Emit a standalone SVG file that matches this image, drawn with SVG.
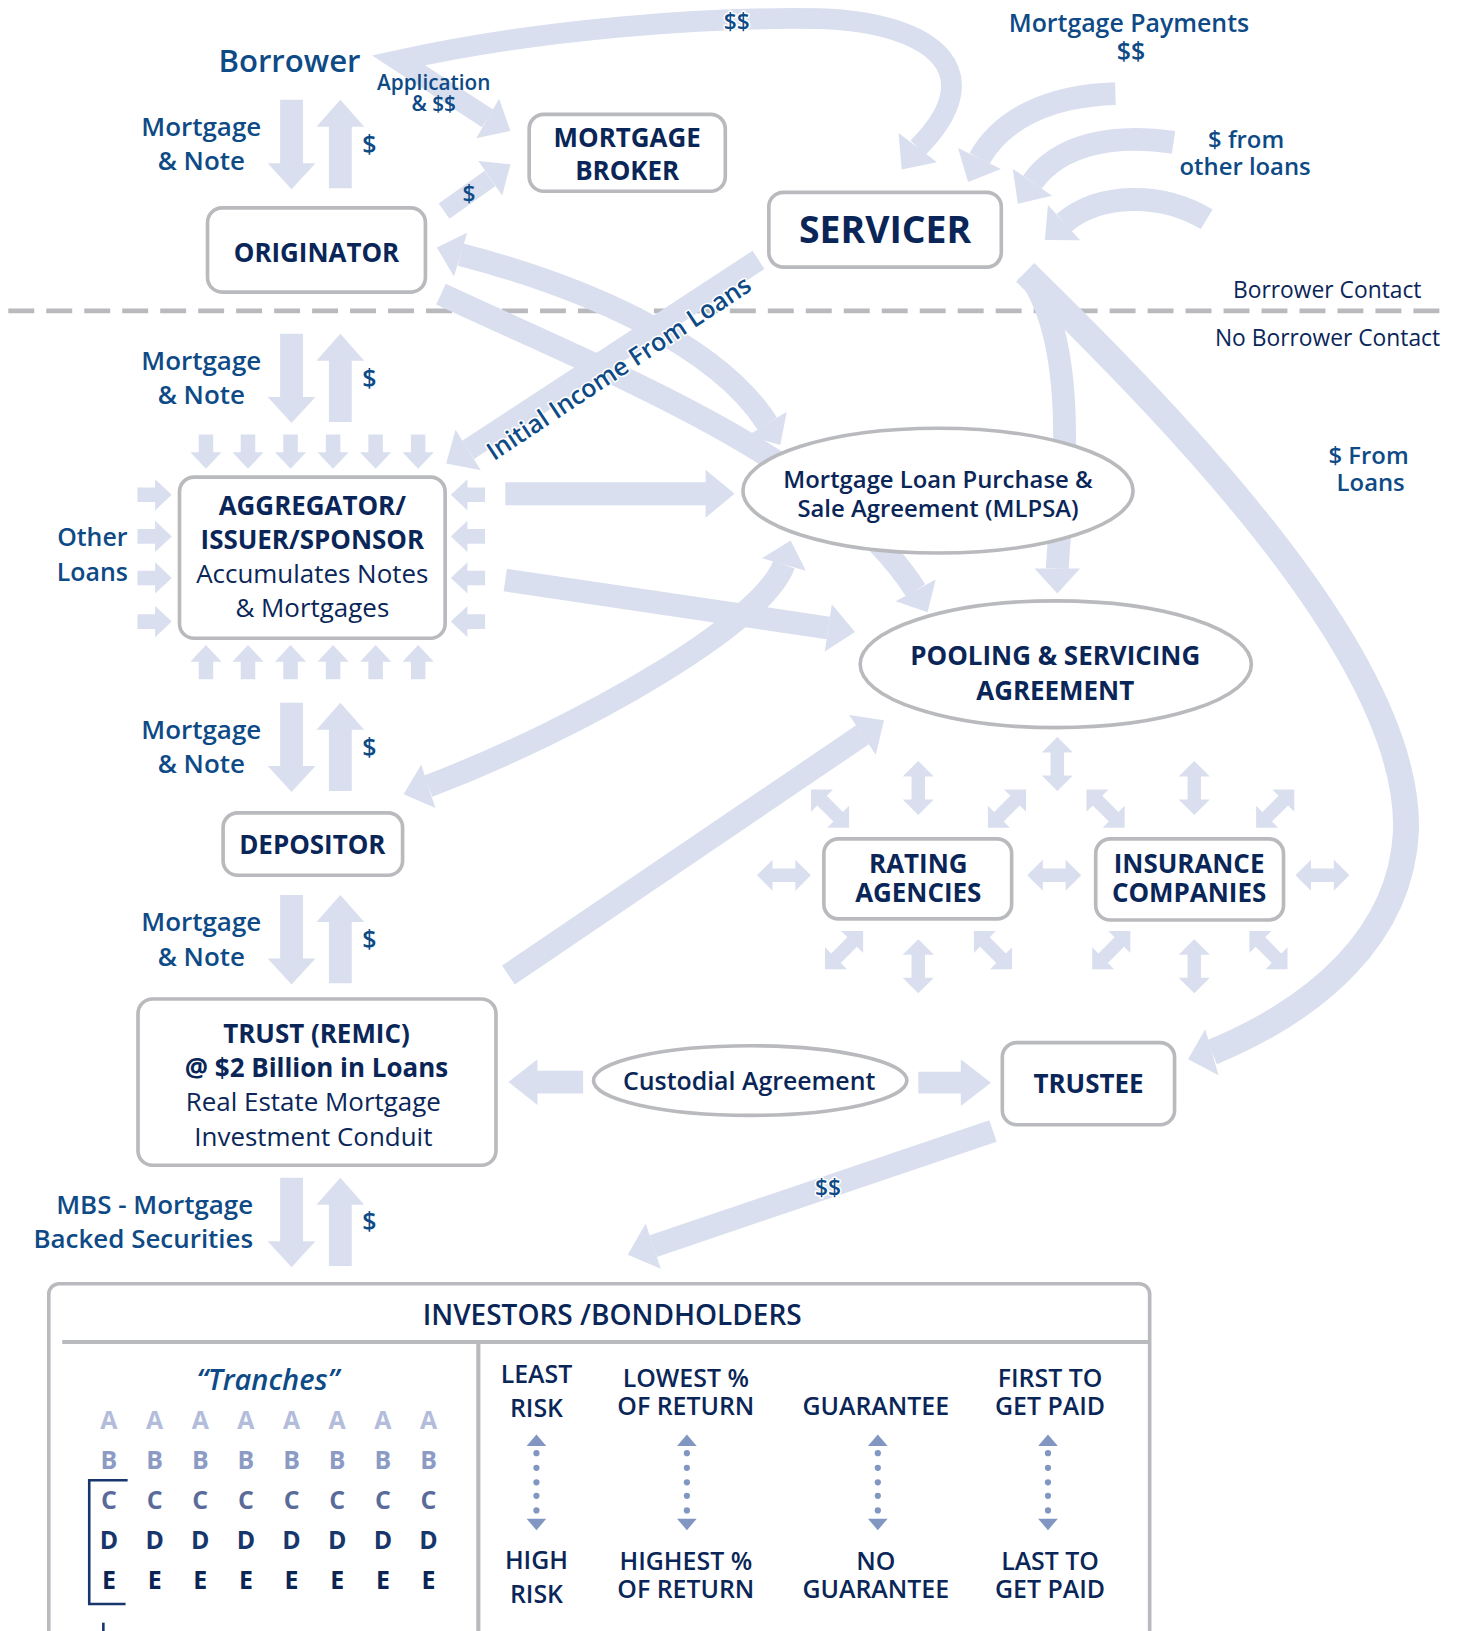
<svg xmlns="http://www.w3.org/2000/svg" width="1463" height="1631" viewBox="0 0 1463 1631">
<defs>
<style>
.band{fill:none;stroke:#d9dfee;stroke-linecap:butt;stroke-linejoin:miter;stroke-miterlimit:6}
.ah{fill:#d9dfee}
.box{fill:#fff;stroke:#b9babd;stroke-width:3.5}
.t{font-family:"Open Sans","Noto Sans",sans-serif;text-anchor:middle}
.lb{fill:#0d4a86;font-weight:600}
.nb{fill:#0a2658;font-weight:700}
.nr{fill:#0a2658;font-weight:400}
.nm{fill:#0a2658;font-weight:600}
.halo{paint-order:stroke;stroke:#fff;stroke-width:3;stroke-linejoin:round}
.dot{fill:#8197c1}
</style>
<g id="pair" fill="#d9dfee">
<polygon points="270,0 292,0 292,61 304,61 281,86 258,61 270,61"/>
<polygon points="328,0 351,26 339,26 339,85 317,85 317,26 305,26"/>
</g>
<polygon id="sa" fill="#d9dfee" points="-7,-16.5 7,-16.5 7,0.5 15,0.5 0,16.5 -15,0.5 -7,0.5"/>
<polygon id="da" fill="#d9dfee" points="0,-26 15,-11 6.5,-11 6.5,11 15,11 0,26 -15,11 -6.5,11 -6.5,-11 -15,-11"/>
<g id="dv" class="dot">
<polygon points="0,0 9.5,11 -9.5,11"/>
<circle cx="0" cy="18" r="3"/><circle cx="0" cy="32" r="3"/><circle cx="0" cy="46" r="3"/><circle cx="0" cy="59" r="3"/><circle cx="0" cy="73" r="3"/>
<polygon points="-9.5,81 9.5,81 0,92"/>
</g>
</defs>
<rect width="1463" height="1631" fill="#fff"/>
<g transform="scale(1.0376 1.0395)">
<line x1="8" y1="299" x2="1397" y2="299" stroke="#b9babd" stroke-width="4.5" stroke-dasharray="25 11.6"/>
<g id="connectors">
<path class="band" stroke-width="20" d="M 470,114 L 384,58 C 520,28 680,16 790,18 C 905,22 955,72 884.6,142.2"/>
<polygon class="ah" points="481,95 492,126 459,133"/>
<polygon class="ah" points="866,128 869,163 903,156"/>
<path class="band" stroke-width="18" d="M 428,203 L 472.3,171.7"/>
<polygon class="ah" points="461,155 492,158 484,188"/>
<path class="band" stroke-width="22" d="M 1075,90 C 1010,92 965,115 944,152.5"/>
<polygon class="ah" points="923.3,142.4 933,175 964.7,162.6"/>
<path class="band" stroke-width="22" d="M 1131,137 C 1070,128 1020,140 995,175.3"/>
<polygon class="ah" points="976,162.4 981,196 1014,188.2"/>
<path class="band" stroke-width="22" d="M 1163,211 C 1120,185 1060,185 1025.5,214.2"/>
<polygon class="ah" points="1010,197.2 1007,231 1041,231.2"/>
<path class="band" stroke-width="21" d="M 731,250 L 451.2,432.8"/>
<polygon class="ah" points="439,413.3 430,446 463.4,452.3"/>
<path class="band" stroke-width="22" d="M 443.9,245 C 560,275 690,330 739.5,407.5"/>
<polygon class="ah" points="450.3,224 421,238 437.5,266"/>
<polygon class="ah" points="720.7,419 752,428 758.3,396"/>
<path class="band" stroke-width="22" d="M 425,283 C 590,360 800,440 882.5,567.9"/>
<polygon class="ah" points="863.2,578.4 894,589 901.8,557.4"/>
<path class="band" stroke-width="22" d="M 990,262 C 1012,292 1026,340 1026,420 C 1026,480 1020,520 1019,547"/>
<polygon class="ah" points="997,547 1019,571 1041,547"/>
<path class="band" stroke-width="25" d="M 988,262 C 1150,420 1360,640 1355,800 C 1350,900 1270,970 1168,1012.3"/>
<polygon class="ah" points="1161.6,990.2 1145,1019 1174.4,1034.3"/>
<polygon class="ah" points="487,464 680,464 680,452 708,475 680,498 680,486 487,486"/>
<path class="band" stroke-width="22" d="M 487,558 L 798.3,604.1"/>
<polygon class="ah" points="801.7,581.4 824,608 794.9,626.8"/>
<path class="band" stroke-width="22" d="M 412.8,756.3 C 560,700 735,600 755.5,543.1"/>
<polygon class="ah" points="406,735.4 389,764 419.6,777.2"/>
<polygon class="ah" points="734.3,537.1 762,520 776.7,549.1"/>
<path class="band" stroke-width="22" d="M 490,938 L 831.25,706.9"/>
<polygon class="ah" points="818.4,687.8 852,693 844,726"/>
<polygon class="ah" points="562,1030 518,1030 518,1019 490,1041 518,1063 518,1052 562,1052"/>
<polygon class="ah" points="885,1031 926,1031 926,1019 955,1041.5 926,1064 926,1052 885,1052"/>
<path class="band" stroke-width="22" d="M 957,1088 L 629.6,1198.7"/>
<polygon class="ah" points="622.3,1176.9 605,1207 636.9,1220.5"/>
<use href="#pair" y="96"/>
<use href="#pair" y="321"/>
<use href="#pair" y="676"/>
<use href="#pair" y="861"/>
<use href="#pair" y="1133"/>
<use href="#sa" transform="translate(198.5,434.5)"/>
<use href="#sa" transform="translate(239,434.5)"/>
<use href="#sa" transform="translate(280,434.5)"/>
<use href="#sa" transform="translate(321,434.5)"/>
<use href="#sa" transform="translate(362,434.5)"/>
<use href="#sa" transform="translate(403,434.5)"/>
<use href="#sa" transform="translate(198.5,637) rotate(180)"/>
<use href="#sa" transform="translate(239,637) rotate(180)"/>
<use href="#sa" transform="translate(280,637) rotate(180)"/>
<use href="#sa" transform="translate(321,637) rotate(180)"/>
<use href="#sa" transform="translate(362,637) rotate(180)"/>
<use href="#sa" transform="translate(403,637) rotate(180)"/>
<use href="#sa" transform="translate(149,476) rotate(-90)"/>
<use href="#sa" transform="translate(149,516) rotate(-90)"/>
<use href="#sa" transform="translate(149,556) rotate(-90)"/>
<use href="#sa" transform="translate(149,598) rotate(-90)"/>
<use href="#sa" transform="translate(451,476) rotate(90)"/>
<use href="#sa" transform="translate(451,516) rotate(90)"/>
<use href="#sa" transform="translate(451,556) rotate(90)"/>
<use href="#sa" transform="translate(451,598) rotate(90)"/>
<use href="#da" transform="translate(1019,735)"/>
<use href="#da" transform="translate(885,758)"/>
<use href="#da" transform="translate(800,778) rotate(-45)"/>
<use href="#da" transform="translate(970.5,778) rotate(45)"/>
<use href="#da" transform="translate(813.5,914) rotate(45)"/>
<use href="#da" transform="translate(885,929.5)"/>
<use href="#da" transform="translate(957,914) rotate(-45)"/>
<use href="#da" transform="translate(755.5,842) rotate(90)"/>
<use href="#da" transform="translate(1016,842) rotate(90)"/>
<use href="#da" transform="translate(1151,758)"/>
<use href="#da" transform="translate(1065.5,778) rotate(-45)"/>
<use href="#da" transform="translate(1229,778) rotate(45)"/>
<use href="#da" transform="translate(1071,914) rotate(45)"/>
<use href="#da" transform="translate(1151,929.5)"/>
<use href="#da" transform="translate(1222.5,914) rotate(-45)"/>
<use href="#da" transform="translate(1274.5,842) rotate(90)"/>
</g>
<g id="labels" class="t">
<text class="lb" x="279" y="69" font-size="30">Borrower</text>
<text class="lb halo" x="710" y="29" font-size="22" font-weight="700">$$</text>
<text class="lb" x="418" y="87" font-size="20">Application</text>
<text class="lb" x="418" y="107" font-size="20">&amp; $$</text>
<text class="lb" x="452" y="194" font-size="22">$</text>
<text class="lb" x="1088" y="31" font-size="24">Mortgage Payments</text>
<text class="lb" x="1090" y="58" font-size="24">$$</text>
<text class="lb" x="1201" y="142" font-size="23">$ from</text>
<text class="lb" x="1200" y="168" font-size="23">other loans</text>
<text class="nr" x="1370" y="287" font-size="22" text-anchor="end">Borrower Contact</text>
<text class="nr" x="1388" y="333" font-size="22" text-anchor="end">No Borrower Contact</text>
<text class="lb" x="1319" y="446" font-size="23">$ From</text>
<text class="lb" x="1321" y="472" font-size="23">Loans</text>
<text class="lb halo" font-size="24" transform="translate(601,361) rotate(-33.5)">Initial Income From Loans</text>
<text class="lb" x="89" y="525" font-size="24">Other</text>
<text class="lb" x="89" y="559" font-size="24">Loans</text>
<text class="lb" x="194" y="131" font-size="25">Mortgage</text>
<text class="lb" x="194" y="164" font-size="25">&amp; Note</text>
<text class="lb" x="356" y="147" font-size="24">$</text>
<text class="lb" x="194" y="356" font-size="25">Mortgage</text>
<text class="lb" x="194" y="389" font-size="25">&amp; Note</text>
<text class="lb" x="356" y="372" font-size="24">$</text>
<text class="lb" x="194" y="711" font-size="25">Mortgage</text>
<text class="lb" x="194" y="744" font-size="25">&amp; Note</text>
<text class="lb" x="356" y="727" font-size="24">$</text>
<text class="lb" x="194" y="896" font-size="25">Mortgage</text>
<text class="lb" x="194" y="929" font-size="25">&amp; Note</text>
<text class="lb" x="356" y="912" font-size="24">$</text>
<text class="lb" x="244" y="1168" font-size="25" text-anchor="end">MBS - Mortgage</text>
<text class="lb" x="244" y="1201" font-size="25" text-anchor="end">Backed Securities</text>
<text class="lb" x="356" y="1183" font-size="24">$</text>
</g>
<g id="broker"><rect class="box" x="510" y="110" width="189" height="74" rx="14"/>
<text class="t nb" x="604.5" y="141" font-size="25">MORTGAGE</text><text class="t nb" x="604.5" y="173" font-size="25">BROKER</text></g>
<g id="originator"><rect class="box" x="200" y="200" width="210" height="81" rx="14"/>
<text class="t nb" x="305" y="252" font-size="25">ORIGINATOR</text></g>
<g id="servicer"><rect class="box" x="741" y="185" width="224" height="72" rx="14"/>
<text class="t nb" x="853" y="234" font-size="36">SERVICER</text></g>
<g id="aggregator"><rect class="box" x="173" y="459" width="256" height="155" rx="14"/>
<text class="t nb" x="301" y="495" font-size="25">AGGREGATOR/</text>
<text class="t nb" x="301" y="528" font-size="25">ISSUER/SPONSOR</text>
<text class="t nr" x="301" y="561" font-size="25">Accumulates Notes</text>
<text class="t nr" x="301" y="594" font-size="25">&amp; Mortgages</text></g>
<g id="mlpsa"><ellipse class="box" cx="904" cy="472" rx="188" ry="60" stroke-width="4"/>
<text class="t nm" x="904" y="469" font-size="23">Mortgage Loan Purchase &amp;</text>
<text class="t nm" x="904" y="497" font-size="23">Sale Agreement (MLPSA)</text></g>
<g id="pooling"><ellipse class="box" cx="1017.5" cy="639" rx="188.5" ry="61" stroke-width="4"/>
<text class="t nb" x="1017" y="640" font-size="25">POOLING &amp; SERVICING</text>
<text class="t nb" x="1017" y="673" font-size="25">AGREEMENT</text></g>
<g id="rating"><rect class="box" x="794" y="807" width="181" height="77" rx="14"/>
<text class="t nb" x="885" y="840" font-size="25">RATING</text><text class="t nb" x="885" y="868" font-size="25">AGENCIES</text></g>
<g id="insurance"><rect class="box" x="1056" y="807" width="181" height="78" rx="14"/>
<text class="t nb" x="1146" y="840" font-size="25">INSURANCE</text><text class="t nb" x="1146" y="868" font-size="25">COMPANIES</text></g>
<g id="depositor"><rect class="box" x="215" y="782" width="173" height="60" rx="14"/>
<text class="t nb" x="301" y="822" font-size="25">DEPOSITOR</text></g>
<g id="trust"><rect class="box" x="133" y="961" width="345" height="160" rx="14"/>
<text class="t nb" x="305" y="1003" font-size="25">TRUST (REMIC)</text>
<text class="t nb" x="305" y="1036" font-size="25">@ $2 Billion in Loans</text>
<text class="t nr" x="302" y="1069" font-size="25">Real Estate Mortgage</text>
<text class="t nr" x="302" y="1102" font-size="25">Investment Conduit</text></g>
<g id="custodial"><ellipse class="box" cx="723" cy="1039.5" rx="151" ry="33.5" stroke-width="4"/>
<text class="t nm" x="722" y="1049" font-size="24">Custodial Agreement</text></g>
<g id="trustee"><rect class="box" x="966" y="1003" width="166" height="79" rx="14"/>
<text class="t nb" x="1049" y="1051" font-size="25">TRUSTEE</text></g>
<g id="investors">
<rect class="box" x="47" y="1235" width="1061" height="420" rx="10" stroke-width="4"/>
<line x1="60" y1="1291" x2="1107" y2="1291" stroke="#b9babd" stroke-width="4"/>
<line x1="461" y1="1293" x2="461" y2="1600" stroke="#b9babd" stroke-width="4"/>
<text class="t nm" x="590" y="1275" font-size="27">INVESTORS /BONDHOLDERS</text>
<text class="t lb" x="258" y="1337" font-size="28" font-style="italic">“Tranches”</text>
<g class="t" font-size="24" font-weight="700">
<g fill="#b3bddb"><text x="105" y="1375">A</text><text x="149" y="1375">A</text><text x="193" y="1375">A</text><text x="237" y="1375">A</text><text x="281" y="1375">A</text><text x="325" y="1375">A</text><text x="369" y="1375">A</text><text x="413" y="1375">A</text></g>
<g fill="#8c9bc3"><text x="105" y="1413">B</text><text x="149" y="1413">B</text><text x="193" y="1413">B</text><text x="237" y="1413">B</text><text x="281" y="1413">B</text><text x="325" y="1413">B</text><text x="369" y="1413">B</text><text x="413" y="1413">B</text></g>
<g fill="#5a6b9a"><text x="105" y="1452">C</text><text x="149" y="1452">C</text><text x="193" y="1452">C</text><text x="237" y="1452">C</text><text x="281" y="1452">C</text><text x="325" y="1452">C</text><text x="369" y="1452">C</text><text x="413" y="1452">C</text></g>
<g fill="#17366b"><text x="105" y="1490">D</text><text x="149" y="1490">D</text><text x="193" y="1490">D</text><text x="237" y="1490">D</text><text x="281" y="1490">D</text><text x="325" y="1490">D</text><text x="369" y="1490">D</text><text x="413" y="1490">D</text></g>
<g fill="#0a2454"><text x="105" y="1529">E</text><text x="149" y="1529">E</text><text x="193" y="1529">E</text><text x="237" y="1529">E</text><text x="281" y="1529">E</text><text x="325" y="1529">E</text><text x="369" y="1529">E</text><text x="413" y="1529">E</text></g>
</g>
<path d="M 123,1424 L 86,1424 L 86,1543 L 121,1543" fill="none" stroke="#17366b" stroke-width="2.5"/>
<line x1="99.6" y1="1561" x2="99.6" y2="1580" stroke="#17366b" stroke-width="2.5"/>
<g class="t nm" font-size="24">
<text x="517" y="1330">LEAST</text><text x="517" y="1363">RISK</text>
<text x="661" y="1334">LOWEST %</text><text x="661" y="1361">OF RETURN</text>
<text x="844" y="1361">GUARANTEE</text>
<text x="1012" y="1334">FIRST TO</text><text x="1012" y="1361">GET PAID</text>
<text x="517" y="1509">HIGH</text><text x="517" y="1542">RISK</text>
<text x="661" y="1510">HIGHEST %</text><text x="661" y="1537">OF RETURN</text>
<text x="844" y="1510">NO</text><text x="844" y="1537">GUARANTEE</text>
<text x="1012" y="1510">LAST TO</text><text x="1012" y="1537">GET PAID</text>
</g>
<use href="#dv" transform="translate(517,1380)"/>
<use href="#dv" transform="translate(662,1380)"/>
<use href="#dv" transform="translate(846,1380)"/>
<use href="#dv" transform="translate(1010,1380)"/>
</g>
<text class="t lb halo" x="798" y="1151" font-size="22" font-weight="700">$$</text>
</g>
</svg>
